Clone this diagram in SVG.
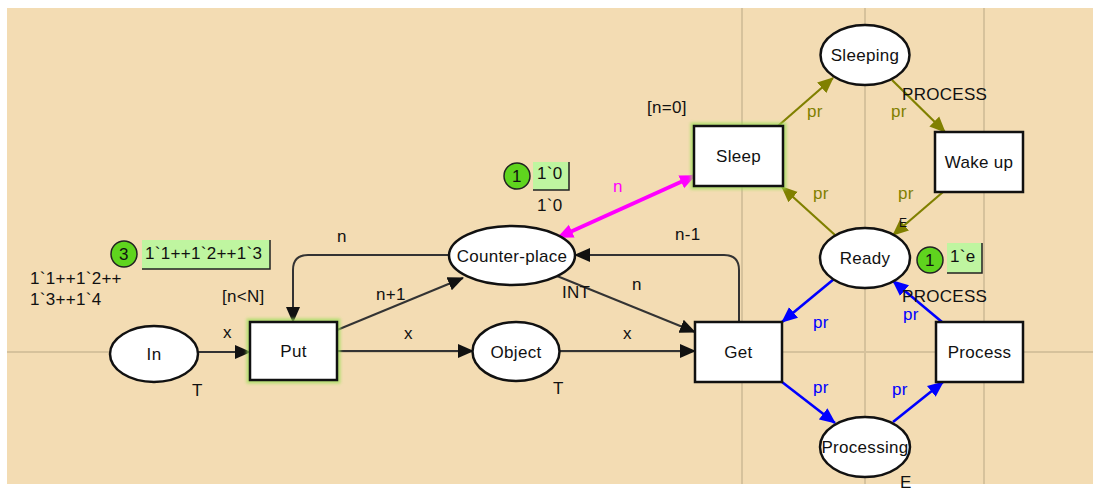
<svg xmlns="http://www.w3.org/2000/svg" width="1093" height="490" viewBox="0 0 1093 490">
<style>
text{font-family:"Liberation Sans",Arial,sans-serif;font-size:17px;letter-spacing:0.3px;fill:#111}
.nt{text-anchor:middle}
.grid{stroke:#d6c29c;stroke-width:2;fill:none}
.place{fill:#fff;stroke:#111;stroke-width:2.5}
.trans{fill:#fff;stroke:#111;stroke-width:2.5}
.glow{fill:none;stroke:#9fe05a;stroke-width:7;opacity:0.75}
.arc{stroke:#333;stroke-width:2;fill:none}
.ol{stroke:#808000;stroke-width:2.2;fill:none}
.bl{stroke:#0000ff;stroke-width:2.6;fill:none}
.mg{stroke:#ff00ff;stroke-width:4;fill:none}
.olt{fill:#808000}
.blt{fill:#0000ff}
.tok{fill:#5fd41e;stroke:#222;stroke-width:1.5}
.tbox{fill:#bff5a0}
.tsh{stroke:#222;stroke-width:1.5;fill:none}
</style>
<defs>
<filter id="blur" x="-20%" y="-20%" width="140%" height="140%"><feGaussianBlur stdDeviation="1.5"/></filter>
<marker id="ab" markerUnits="userSpaceOnUse" markerWidth="16" markerHeight="16" refX="15" refY="8" orient="auto"><path d="M0,1 L16,8 L0,15 z" fill="#111"/></marker>
<marker id="ao" markerUnits="userSpaceOnUse" markerWidth="16" markerHeight="16" refX="15" refY="8" orient="auto"><path d="M0,1 L16,8 L0,15 z" fill="#808000"/></marker>
<marker id="abl" markerUnits="userSpaceOnUse" markerWidth="16" markerHeight="16" refX="15" refY="8" orient="auto"><path d="M0,1 L16,8 L0,15 z" fill="#0000ff"/></marker>
<marker id="am" markerUnits="userSpaceOnUse" markerWidth="16" markerHeight="16" refX="14" refY="8" orient="auto-start-reverse"><path d="M0,1 L16,8 L0,15 z" fill="#ff00ff"/></marker>
</defs>
<rect x="0" y="0" width="1093" height="490" fill="#fff"/>
<rect x="7" y="8" width="1086" height="476" fill="#f3dcb3"/>
<g id="grid">
<line class="grid" x1="7" y1="352" x2="1093" y2="352"/>
<line class="grid" x1="742" y1="8" x2="742" y2="484"/>
<line class="grid" x1="865" y1="8" x2="865" y2="484"/>
<line class="grid" x1="984" y1="8" x2="984" y2="484"/>
</g>
<g id="connectors">
<path class="arc" d="M198,352 L250,352" marker-end="url(#ab)"/>
<path class="arc" d="M337,351 L473,351" marker-end="url(#ab)"/>
<path class="arc" d="M560,351 L695,351" marker-end="url(#ab)"/>
<path class="arc" d="M337,330 L463,278" marker-end="url(#ab)"/>
<path class="arc" d="M557,276 L695,332" marker-end="url(#ab)"/>
<path class="arc" d="M449,255 L308,255 Q293,255 293,270 L293,322" marker-end="url(#ab)"/>
<path class="arc" d="M739,322 L739,270 Q739,255 724,255 L575,255" marker-end="url(#ab)"/>
<path class="mg" d="M559,237 L694,176" marker-start="url(#am)" marker-end="url(#am)"/>
<path class="ol" d="M778,126 L833,78" marker-end="url(#ao)"/>
<path class="ol" d="M892,80 L945,132" marker-end="url(#ao)"/>
<path class="ol" d="M943,192 L893,235" marker-end="url(#ao)"/>
<path class="ol" d="M835,235 L782,187" marker-end="url(#ao)"/>
<path class="bl" d="M834,279 L782,322" marker-end="url(#abl)"/>
<path class="bl" d="M782,382 L835,423" marker-end="url(#abl)"/>
<path class="bl" d="M893,422 L943,382" marker-end="url(#abl)"/>
<path class="bl" d="M942,322 L893,281" marker-end="url(#abl)"/>
<text x="337" y="242">n</text>
<text x="376" y="300">n+1</text>
<text x="223" y="338">x</text>
<text x="404" y="339">x</text>
<text x="623" y="339">x</text>
<text x="675" y="240">n-1</text>
<text x="632" y="290">n</text>
<text x="613" y="192" style="fill:#ff00ff">n</text>
<text class="olt" x="807" y="117">pr</text>
<text class="olt" x="891" y="117">pr</text>
<text class="olt" x="813" y="199">pr</text>
<text class="olt" x="898" y="199">pr</text>
<text class="blt" x="813" y="328">pr</text>
<text class="blt" x="813" y="393">pr</text>
<text class="blt" x="892" y="395">pr</text>
<text class="blt" x="903" y="320">pr</text>
</g>
<g id="In">
<ellipse class="place" cx="154" cy="354" rx="44" ry="28"/>
<text class="nt" x="154" y="360">In</text>
<text x="192" y="396">T</text>
<text x="30" y="284">1`1++1`2++</text>
<text x="30" y="305">1`3++1`4</text>
<circle class="tok" cx="124" cy="254" r="13"/>
<text class="nt" x="124" y="260">3</text>
<rect class="tbox" x="142" y="240" width="128" height="29"/>
<path class="tsh" d="M270,240 L270,269 L142,269"/>
<text x="145" y="259">1`1++1`2++1`3</text>
</g>
<g id="Put">
<rect class="glow" x="250" y="322" width="87" height="58" filter="url(#blur)"/>
<rect class="trans" x="250" y="322" width="87" height="58"/>
<text class="nt" x="293.5" y="357">Put</text>
<text x="222" y="302">[n&lt;N]</text>
</g>
<g id="Object">
<ellipse class="place" cx="516" cy="351.5" rx="43.5" ry="29.5"/>
<text class="nt" x="516" y="357.5">Object</text>
<text x="553" y="394">T</text>
</g>
<g id="Counter-place">
<ellipse class="place" cx="512" cy="255.5" rx="63" ry="29.5"/>
<text class="nt" x="512" y="261.5">Counter-place</text>
<text x="562" y="298">INT</text>
<circle class="tok" cx="517" cy="176" r="13"/>
<text class="nt" x="517" y="182">1</text>
<rect class="tbox" x="533" y="162" width="36" height="28"/>
<path class="tsh" d="M569,162 L569,190 L533,190"/>
<text x="537" y="179">1`0</text>
<text x="537" y="211">1`0</text>
</g>
<g id="Get">
<rect class="trans" x="695" y="322" width="87" height="60"/>
<text class="nt" x="738.5" y="358">Get</text>
</g>
<g id="Sleep">
<rect class="glow" x="694" y="126" width="89" height="60" filter="url(#blur)"/>
<rect class="trans" x="694" y="126" width="89" height="60"/>
<text class="nt" x="738.5" y="162">Sleep</text>
<text x="647" y="113">[n=0]</text>
</g>
<g id="Sleeping">
<ellipse class="place" cx="865" cy="55" rx="44.5" ry="30"/>
<text class="nt" x="865" y="61">Sleeping</text>
<text x="902" y="100">PROCESS</text>
</g>
<g id="Wake-up">
<rect class="trans" x="935" y="132" width="88" height="60"/>
<text class="nt" x="979" y="168">Wake up</text>
</g>
<g id="Ready">
<text x="899" y="227" style="font-size:12px">E</text>
<ellipse class="place" cx="865" cy="258" rx="45" ry="30"/>
<text class="nt" x="865" y="264">Ready</text>
<circle class="tok" cx="930" cy="260" r="13"/>
<text class="nt" x="930" y="266">1</text>
<rect class="tbox" x="947" y="243" width="35" height="30"/>
<path class="tsh" d="M982,243 L982,273 L947,273"/>
<text x="950" y="262">1`e</text>
<text x="902" y="302">PROCESS</text>
</g>
<g id="Process">
<rect class="trans" x="936" y="322" width="87" height="60"/>
<text class="nt" x="979.5" y="358">Process</text>
</g>
<g id="Processing">
<ellipse class="place" cx="865" cy="447" rx="45" ry="30"/>
<text class="nt" x="865" y="453">Processing</text>
<text x="900" y="488">E</text>
</g>
</svg>
